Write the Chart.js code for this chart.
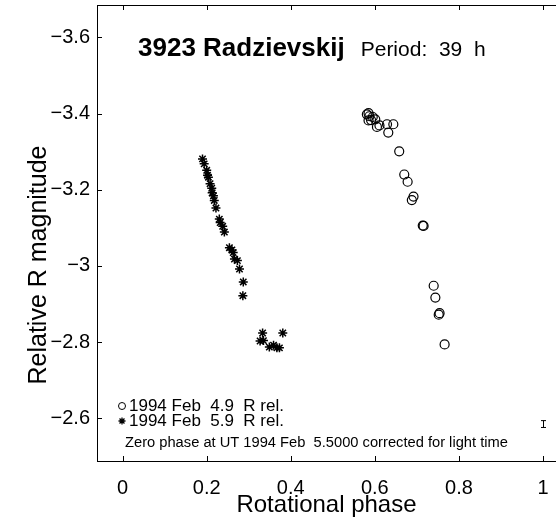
<!DOCTYPE html>
<html>
<head>
<meta charset="utf-8">
<script src="https://cdn.jsdelivr.net/npm/chart.js@4.4.1/dist/chart.umd.min.js"></script>
<style>
  html, body { margin: 0; padding: 0; background: #fff; }
</style>
</head>
<body>
<canvas id="lightcurve" width="556" height="517"></canvas>
<script>
// 1994 Feb 4.9 session, open circles
const feb4Phase = [0.581, 0.585, 0.587, 0.585, 0.595, 0.601, 0.591, 0.611, 0.605, 0.629, 0.644, 0.632,
  0.658, 0.670, 0.678, 0.692, 0.688, 0.714, 0.716, 0.740, 0.744, 0.754, 0.752, 0.766];
const feb4Mag = [-3.398, -3.401, -3.393, -3.382, -3.391, -3.385, -3.383, -3.369, -3.365, -3.372, -3.372, -3.350,
  -3.301, -3.240, -3.221, -3.182, -3.173, -3.106, -3.105, -2.948, -2.917, -2.876, -2.872, -2.794];

// 1994 Feb 5.9 session, asterisks
const feb5Phase = [0.190, 0.194, 0.200, 0.202, 0.204, 0.208, 0.212, 0.213, 0.216, 0.218, 0.222, 0.230,
  0.232, 0.238, 0.242, 0.254, 0.260, 0.263, 0.266, 0.273, 0.278, 0.287, 0.286,
  0.333, 0.335, 0.327, 0.349, 0.359, 0.367, 0.373, 0.381];
const feb5Mag = [-3.281, -3.268, -3.251, -3.238, -3.233, -3.216, -3.204, -3.192, -3.184, -3.172, -3.152, -3.123,
  -3.114, -3.104, -3.089, -3.048, -3.042, -3.035, -3.018, -3.014, -2.992, -2.958, -2.922,
  -2.824, -2.804, -2.803, -2.787, -2.792, -2.785, -2.785, -2.824];

// typical error bar drawn at the right
const errPhase = [1.0];
const errMag = [-2.585];
const errHalf = [0.009];

const xTicks = [0, 0.2, 0.4, 0.6, 0.8, 1];
const yTicks = [-3.6, -3.4, -3.2, -3, -2.8, -2.6];

const titleBold = "3923 Radzievskij";
const titleRest = "Period:  39  h";
const legendLabels = ["1994 Feb  4.9  R rel.", "1994 Feb  5.9  R rel."];
const noteText = "Zero phase at UT 1994 Feb  5.5000 corrected for light time";
const xTitle = "Rotational phase";
const yTitle = "Relative R magnitude";

const FONT = "'Liberation Sans', Arial, Helvetica, sans-serif";

const toPoints = (xs, ys) => xs.map((x, i) => ({ x, y: ys[i] }));
const fmt = v => (v < 0 ? "\u2212" : "") + Number(Math.abs(v).toFixed(1));

function drawAsterisk(ctx, x, y, r) {
  ctx.beginPath();
  for (let k = 0; k < 4; k++) {
    const a = k * Math.PI / 4;
    ctx.moveTo(x - r * Math.cos(a), y - r * Math.sin(a));
    ctx.lineTo(x + r * Math.cos(a), y + r * Math.sin(a));
  }
  ctx.stroke();
}

// frame with inward ticks, text annotations and error bar
const decorations = {
  id: "decorations",
  afterDraw(chart) {
    const { ctx, chartArea: a, scales } = chart;
    const xs = scales.x, ys = scales.y;
    ctx.save();
    ctx.strokeStyle = "#000";
    ctx.fillStyle = "#000";
    ctx.lineWidth = 1;

    ctx.strokeRect(a.left + 0.5, a.top + 0.5, a.right - a.left, a.bottom - a.top);

    ctx.beginPath();
    xTicks.forEach(v => {
      const px = Math.round(xs.getPixelForValue(v)) + 0.5;
      ctx.moveTo(px, a.bottom); ctx.lineTo(px, a.bottom - 5);
      ctx.moveTo(px, a.top); ctx.lineTo(px, a.top + 5);
    });
    yTicks.forEach(v => {
      const py = Math.round(ys.getPixelForValue(v)) + 0.5;
      ctx.moveTo(a.left, py); ctx.lineTo(a.left + 5, py);
    });
    ctx.stroke();

    // error bar
    errPhase.forEach((p, i) => {
      const px = Math.round(xs.getPixelForValue(p)) + 0.5;
      const y1 = ys.getPixelForValue(errMag[i] - errHalf[i]);
      const y2 = ys.getPixelForValue(errMag[i] + errHalf[i]);
      ctx.beginPath();
      ctx.moveTo(px, y1); ctx.lineTo(px, y2);
      ctx.moveTo(px - 2.5, y1); ctx.lineTo(px + 2.5, y1);
      ctx.moveTo(px - 2.5, y2); ctx.lineTo(px + 2.5, y2);
      ctx.stroke();
    });

    // title inside the axes
    ctx.textBaseline = "middle";
    ctx.textAlign = "left";
    ctx.font = "bold 26px " + FONT;
    ctx.fillText(titleBold, 138, 49);
    const w = ctx.measureText(titleBold).width;
    ctx.font = "21px " + FONT;
    ctx.fillText(titleRest, 138 + w + 16, 50);

    // legend
    ctx.font = "17px " + FONT;
    ctx.lineWidth = 1;
    ctx.beginPath();
    ctx.arc(122, 406, 3.5, 0, Math.PI * 2);
    ctx.stroke();
    ctx.fillText(legendLabels[0], 129, 406);
    ctx.lineWidth = 1.3;
    drawAsterisk(ctx, 122, 421, 3.5);
    ctx.fillText(legendLabels[1], 129, 421);
    ctx.font = "14.7px " + FONT;
    ctx.fillText(noteText, 125, 443);

    // y axis label
    ctx.font = "25px " + FONT;
    ctx.textAlign = "center";
    ctx.translate(39, 265);
    ctx.rotate(-Math.PI / 2);
    ctx.fillText(yTitle, 0, 0);
    ctx.restore();
  }
};

new Chart(document.getElementById("lightcurve"), {
  type: "scatter",
  data: {
    datasets: [
      {
        label: legendLabels[0],
        data: toPoints(feb4Phase, feb4Mag),
        pointStyle: "circle",
        pointRadius: 4.5,
        borderWidth: 1.2,
        borderColor: "#000",
        backgroundColor: "rgba(0,0,0,0)"
      },
      {
        label: legendLabels[1],
        data: toPoints(feb5Phase, feb5Mag),
        pointStyle: "star",
        pointRadius: 4.5,
        borderWidth: 1.5,
        borderColor: "#000",
        backgroundColor: "#000"
      }
    ]
  },
  options: {
    responsive: false,
    animation: false,
    layout: { autoPadding: false, padding: { top: 5, right: 0, bottom: 0, left: 0 } },
    plugins: { legend: { display: false }, tooltip: { enabled: false } },
    scales: {
      x: {
        type: "linear",
        min: -0.061,
        max: 1.031,
        grid: { display: false, drawTicks: false },
        border: { display: false },
        afterBuildTicks: s => { s.ticks = xTicks.map(v => ({ value: v })); },
        afterFit: s => { s.height = 56; s.paddingLeft = 0; s.paddingRight = 0; },
        ticks: { color: "#000", padding: 15, font: { family: FONT, size: 20 }, maxRotation: 0, callback: fmt },
        title: { display: true, text: xTitle, color: "#000", font: { family: FONT, size: 24, lineHeight: 1 }, padding: { top: 0, bottom: 0 } }
      },
      y: {
        type: "linear",
        reverse: true,
        min: -3.685,
        max: -2.488,
        grid: { display: false, drawTicks: false },
        border: { display: false },
        afterBuildTicks: s => { s.ticks = yTicks.map(v => ({ value: v })); },
        afterFit: s => { s.width = 97; s.paddingTop = 0; s.paddingBottom = 0; },
        ticks: { color: "#000", padding: 7, font: { family: FONT, size: 20 }, callback: fmt }
      }
    }
  },
  plugins: [decorations]
});
</script>
</body>
</html>
